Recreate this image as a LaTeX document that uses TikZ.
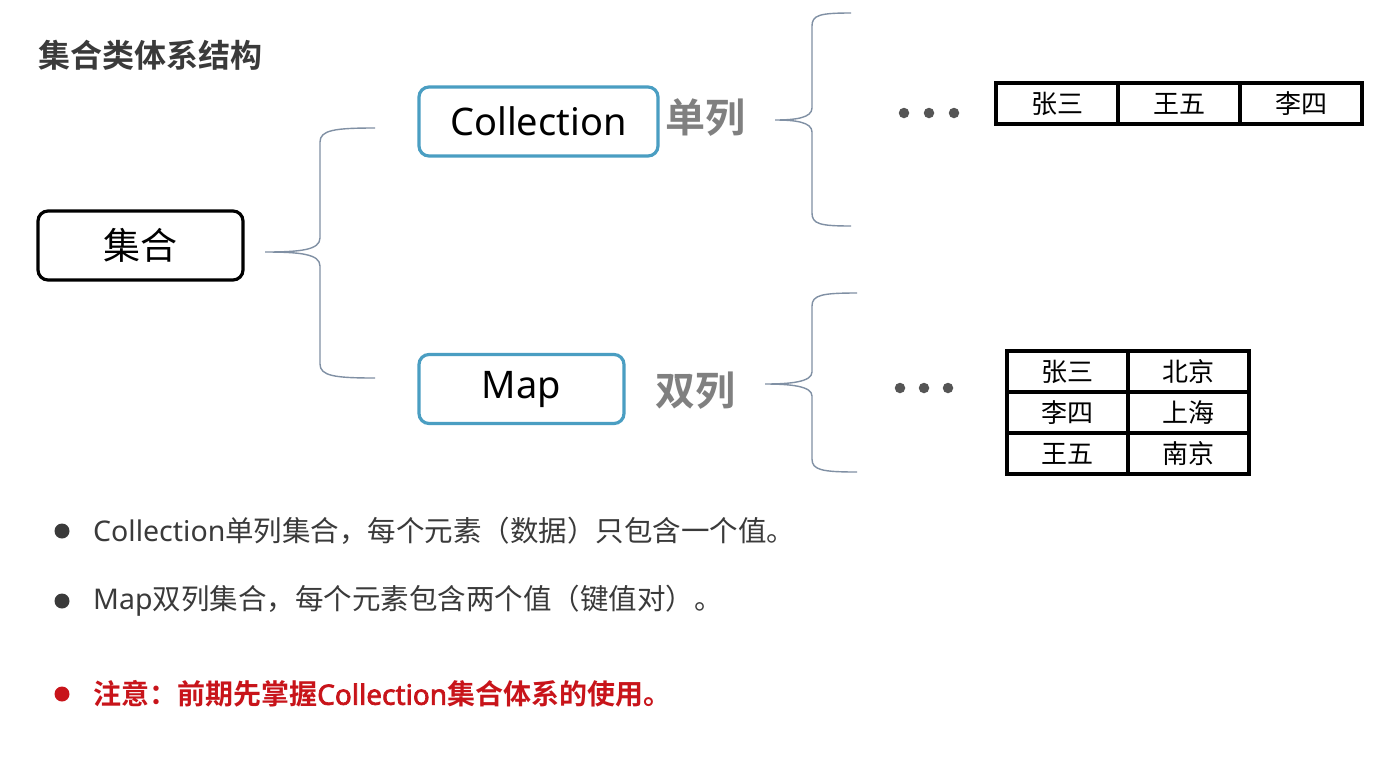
\documentclass[tikz,border=0pt]{standalone}
\usepackage{fontspec}
\setmainfont{Noto Sans CJK SC}[BoldFont={Noto Sans CJK SC Bold}]
\newfontfamily\latinf{Noto Sans}
\newfontfamily\latinfb{Noto Sans}[FakeBold=2.5]
\definecolor{bracecol}{HTML}{8090A4}
\definecolor{boxblue}{HTML}{4A9EC2}
\definecolor{txtdark}{HTML}{3A3A3A}
\definecolor{labgray}{HTML}{808080}
\definecolor{warnred}{HTML}{C8141A}
\definecolor{dotgray}{HTML}{555555}
\tikzset{
  bracel/.style={draw=bracecol, line width=1.4pt},
  rootbox/.style={draw=black, line width=3.2pt, rounded corners=10pt, minimum width=205pt, minimum height=69pt, inner sep=0pt, font=\fontsize{37}{40}\selectfont},
  kindbox/.style={draw=boxblue, line width=3.2pt, rounded corners=10pt, minimum height=69pt, inner sep=0pt, font=\latinf\fontsize{38}{42}\selectfont},
  kindlab/.style={text=labgray, font=\bfseries\fontsize{40}{44}\selectfont, inner sep=0pt},
  cell/.style={draw=black, line width=3.4pt, minimum width=122pt, minimum height=41pt, inner sep=0pt, font=\fontsize{26}{28}\selectfont},
  edot/.style={circle, fill=dotgray, minimum size=10.5pt, inner sep=0pt},
  bullet/.style={circle, fill=txtdark, minimum size=15pt, inner sep=0pt},
  btext/.style={anchor=west, inner sep=0pt, text=txtdark, font=\fontsize{28.5}{31}\selectfont},
}
\begin{document}
\begin{tikzpicture}[x=1pt,y=-1pt]
\useasboundingbox[fill=white] (0,0) rectangle (1389,756);

% title
\node[anchor=west, inner sep=0pt, text=txtdark, font=\bfseries\fontsize{32}{36}\selectfont] (title) at (38,55) {集合类体系结构};

% root
\node[rootbox] (root) at (140.5,245.5) {集合};

% kinds
\node[kindbox, minimum width=239pt] (coll) at (538.5,121.5) {Collection};
\node[kindbox, minimum width=205pt] (map) at (521.5,389) {Map};
\node[kindlab, anchor=west] (single) at (665,118) {单列};
\node[kindlab, anchor=west] (double) at (655,391) {双列};

% brace 1
\coordinate (b1tip) at (265,252);
\coordinate (b1top) at (375,128);
\coordinate (b1bot) at (375,378);
\draw[bracel] (b1top) .. controls (335,128) and (320,130) .. (320,142) -- (320,238)
  .. controls (320,250) and (300,252) .. (b1tip)
  .. controls (300,252) and (320,254) .. (320,266) -- (320,364)
  .. controls (320,376) and (335,378) .. (b1bot);

% brace 2
\coordinate (b2tip) at (775,120);
\coordinate (b2top) at (851,13);
\coordinate (b2bot) at (851,226);
\draw[bracel] (b2top) .. controls (820,13) and (812,15) .. (812,26) -- (812,108)
  .. controls (812,118) and (795,120) .. (b2tip)
  .. controls (795,120) and (812,122) .. (812,132) -- (812,213)
  .. controls (812,224) and (820,226) .. (b2bot);

% brace 3
\coordinate (b3tip) at (765,384);
\coordinate (b3top) at (857,293);
\coordinate (b3bot) at (857,472);
\draw[bracel] (b3top) .. controls (822,293) and (812,295) .. (812,306) -- (812,372)
  .. controls (812,382) and (790,384) .. (b3tip)
  .. controls (790,384) and (812,386) .. (812,396) -- (812,459)
  .. controls (812,470) and (822,472) .. (b3bot);

% ellipses
\node[edot] (d11) at (904,113) {};
\node[edot] (d12) at (929,113) {};
\node[edot] (d13) at (954,113) {};
\node[edot] (d21) at (900,388) {};
\node[edot] (d22) at (924,388) {};
\node[edot] (d23) at (948,388) {};

% table 1
\node[cell] (t11) at (1057,103.5) {张三};
\node[cell] (t12) at (1179,103.5) {王五};
\node[cell] (t13) at (1301,103.5) {李四};

% table 2
\node[cell, minimum width=121pt] (m11) at (1067.5,371.5) {张三};
\node[cell, minimum width=121pt] (m12) at (1188.5,371.5) {北京};
\node[cell, minimum width=121pt] (m21) at (1067.5,412.5) {李四};
\node[cell, minimum width=121pt] (m22) at (1188.5,412.5) {上海};
\node[cell, minimum width=121pt] (m31) at (1067.5,453.5) {王五};
\node[cell, minimum width=121pt] (m32) at (1188.5,453.5) {南京};

% bullets
\node[bullet] (p1) at (62,531) {};
\node[btext] (l1) at (93,531) {{\latinf Collection}单列集合，每个元素（数据）只包含一个值。};
\node[bullet] (p2) at (62,601) {};
\node[btext] (l2) at (93,601) {{\latinf Map}双列集合，每个元素包含两个值（键值对）。};
\node[bullet, fill=warnred] (p3) at (62,694) {};
\node[btext, text=warnred, font=\bfseries\fontsize{28}{31}\selectfont] (l3) at (93,694) {注意：前期先掌握{\latinfb Collection}集合体系的使用。};
\end{tikzpicture}
\end{document}
